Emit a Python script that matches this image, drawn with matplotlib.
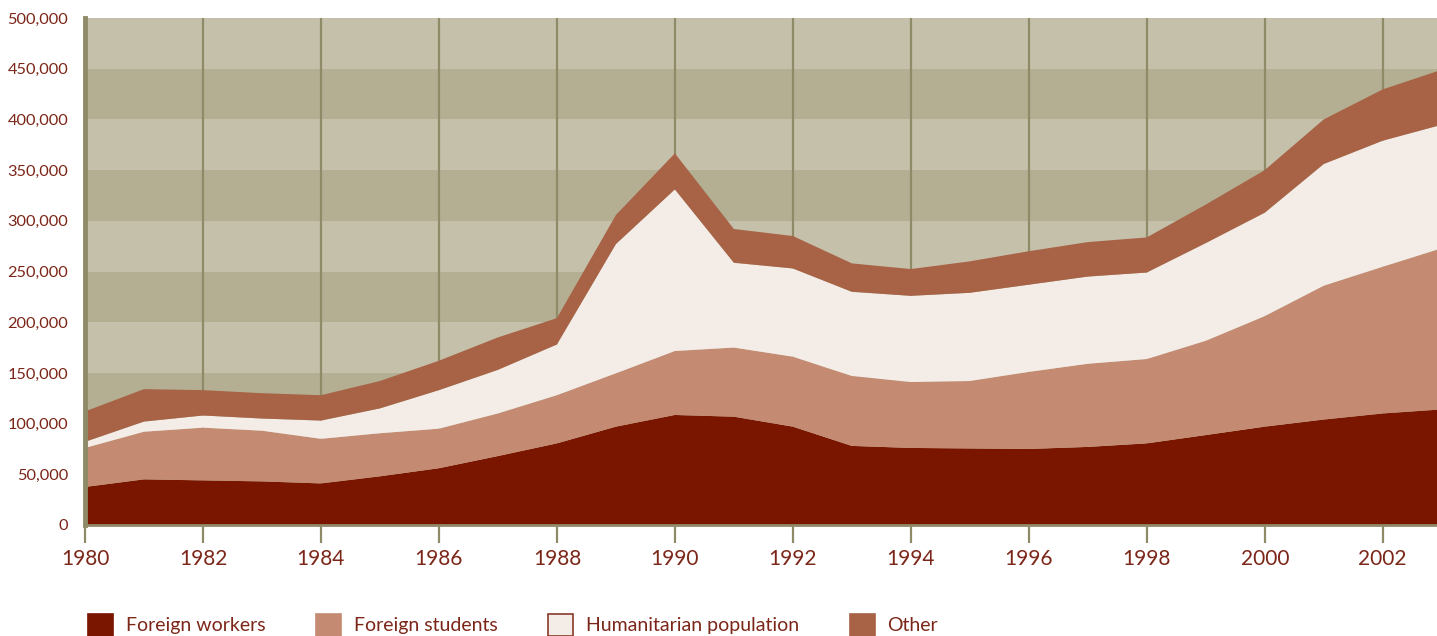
import numpy as np
import matplotlib
matplotlib.use("Agg")
import matplotlib.pyplot as plt
from matplotlib.patches import Patch
from matplotlib.ticker import FuncFormatter

plt.rcParams['font.family'] = ['Lato', 'DejaVu Sans']

years = list(range(1980, 2004))
workers = [37500, 45000, 44000, 43000, 41000, 48000, 56000, 68000, 80500, 97000,
           108500, 106800, 97000, 78000, 76000, 75500, 75000, 77000, 80500, 88700,
           97000, 104000, 110000, 114000]
students = [38500, 47000, 52000, 50000, 44000, 42500, 39000, 42000, 47500, 52600,
            63100, 68200, 69000, 69000, 65000, 66500, 76000, 82000, 83200, 93000,
            109000, 132000, 144700, 159000]
humanitarian = [6000, 10000, 12000, 12000, 18000, 24500, 38000, 43000, 50000, 127400,
                159400, 83600, 87000, 83000, 85000, 87000, 86000, 86000, 85300, 96300,
                102000, 120000, 124300, 121700]
other = [30000, 32000, 25000, 25000, 25000, 27000, 29000, 32000, 26000, 28700,
         35500, 33300, 32000, 28000, 26400, 31000, 33000, 34000, 34600, 38000,
         42000, 44000, 50600, 54300]
labels = ["Foreign workers", "Foreign students", "Humanitarian population", "Other"]
colors = ["#7a1500", "#c48b72", "#f4ece7", "#a86246"]

text_color = "#7b2618"
olive = "#8f8a68"

fig = plt.figure(figsize=(14.37, 6.36), dpi=100)
ax = fig.add_axes([85 / 1437, 111 / 636, 1 - 85 / 1437, 507 / 636])

# striped background
for i, lo in enumerate(range(0, 500000, 50000)):
    c = "#b4af92" if i % 2 == 0 else "#c5c0aa"
    ax.axhspan(lo, lo + 50000, color=c, lw=0, zorder=0)

for yr in range(1982, 2004, 2):
    ax.axvline(yr, color=olive, lw=1.6, zorder=1)

ax.stackplot(years, workers, students, humanitarian, other, colors=colors,
             lw=0, zorder=2)

ax.set_xlim(1980, 2002.92)
ax.set_ylim(0, 500000)
ax.set_xticks(range(1980, 2003, 2))
ax.set_yticks(range(0, 500001, 50000))
ax.yaxis.set_major_formatter(FuncFormatter(lambda v, p: f"{int(v):,}"))

ax.tick_params(axis="x", length=13, width=1.6, color=olive, labelcolor=text_color,
               labelsize=15, pad=4)
ax.tick_params(axis="y", length=0, labelcolor=text_color, labelsize=11.8, pad=12)

for s in ["top", "right"]:
    ax.spines[s].set_visible(False)
ax.spines["left"].set_color(olive)
ax.spines["left"].set_linewidth(3.5)
ax.spines["bottom"].set_color(olive)
ax.spines["bottom"].set_linewidth(2)
ax.spines["left"].set_zorder(3)
ax.spines["bottom"].set_zorder(3)

handles = []
for lab, c in zip(labels, colors):
    ec = "#8a3a28" if c == "#f4ece7" else c
    handles.append(Patch(facecolor=c, edgecolor=ec, lw=1.2, label=lab))
leg = fig.legend(handles=handles, loc="lower left", bbox_to_anchor=(80 / 1437, -0.012),
                 ncol=4, frameon=False, fontsize=14, handlelength=1.3, handleheight=1.35,
                 handletextpad=0.65, columnspacing=2.6, borderaxespad=0)
for t in leg.get_texts():
    t.set_color(text_color)

fig.savefig("out.png", dpi=100)
